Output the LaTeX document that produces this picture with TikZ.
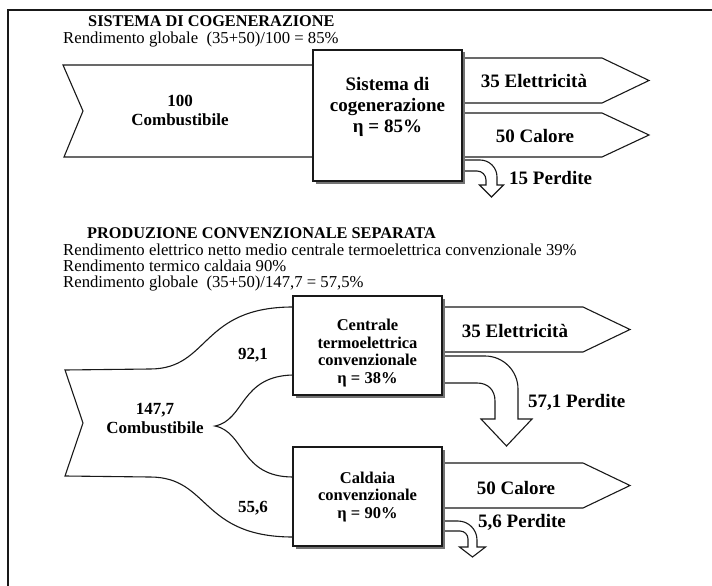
\documentclass[tikz,border=0pt]{standalone}
\usepackage{fontspec}
\setmainfont{Liberation Serif}
\usetikzlibrary{shadows,calc}
\tikzset{
 ln/.style={line width=1.1pt, draw=black!90, line join=miter},
 blockarrow/.style={ln, fill=white},
 procbox/.style={ln, fill=white, minimum width=149pt, inner sep=0,
   drop shadow={shadow xshift=2.5pt, shadow yshift=-2.5pt, fill=black!55, opacity=1}},
 titletxt/.style={font=\fontsize{16.3}{18}\selectfont\bfseries, anchor=base west, inner sep=0},
 infotxt/.style={font=\fontsize{16.7}{18}\selectfont, anchor=base west, inner sep=0},
 flowlbl/.style={font=\fontsize{19}{21}\selectfont\bfseries, inner sep=0},
 qty/.style={font=\fontsize{17}{19}\selectfont\bfseries, inner sep=0, align=center},
 boxtxt/.style={font=\fontsize{16.5}{17.5}\selectfont\bfseries, align=center, inner sep=0},
}
\begin{document}
\begin{tikzpicture}[x=1pt,y=-1pt]
\useasboundingbox (0,0) rectangle (712,586);
% frame
\draw[line width=1.8pt, black!90] (8,586) -- (8,10) -- (712,10);

% ---------- top section ----------
\node[titletxt] (t1) at (88,27) {SISTEMA DI COGENERAZIONE};
\node[infotxt] (r1) at (63,43.5) {Rendimento globale\enspace(35+50)/100 = 85\%};

\draw[blockarrow] (313,65) -- (63,65) -- (83,111) -- (64,157) -- (313,157);
\draw[blockarrow] (462,58) -- (602,58) -- (649,80.5) -- (602,103) -- (462,103);
\draw[blockarrow] (462,113) -- (602,113) -- (649,135) -- (602,157) -- (462,157);
\draw[blockarrow] (462,160) -- (480,160) .. controls (489.4,160) and (497,167.6) .. (497,177)
  -- (497,185) -- (503.5,185) -- (491.5,197) -- (479.5,185) -- (486,185) -- (486,180)
  .. controls (486,175) and (482,171) .. (477,171) -- (462,171);

\node[procbox, minimum height=131pt] (cog) at (387.5,115.5) {};
\node[font=\fontsize{19}{21}\selectfont\bfseries, align=center, inner sep=0] (cogt) at (387.5,107) {Sistema di\\cogenerazione\\η = 85\%};

\node[qty] (fuel1) at (180,110) {100\\Combustibile};
\node[flowlbl] (el1) at (534,81) {35 Elettricità};
\node[flowlbl] (ca1) at (535,136) {50 Calore};
\node[flowlbl, anchor=west] (lo1) at (509,178) {15 Perdite};

% ---------- bottom section ----------
\node[titletxt] (t2) at (87,238) {PRODUZIONE CONVENZIONALE SEPARATA};
\node[infotxt] (r2) at (63,255) {Rendimento elettrico netto medio centrale termoelettrica convenzionale 39\%};
\node[infotxt] (r3) at (63,271) {Rendimento termico caldaia 90\%};
\node[infotxt] (r4) at (63,287) {Rendimento globale\enspace(35+50)/147,7 = 57,5\%};

% fuel fork
\draw[ln] (293,307) .. controls (200,307) and (210,369) .. (150,369) -- (65,370) -- (83,423)
  -- (65,476) -- (150,477) .. controls (210,477) and (200,537) .. (293,537);
\draw[ln] (293,375) .. controls (240,376) and (245,420) .. (215,426)
  .. controls (245,432) and (240,477) .. (293,477);

\draw[blockarrow] (442,307) -- (583,307) -- (630,329.5) -- (583,352) -- (442,352);
\draw[blockarrow] (442,463) -- (583,463) -- (630,485.5) -- (583,508) -- (442,508);
\draw[blockarrow] (442,356) -- (485,356) .. controls (503.2,356) and (518,370.8) .. (518,389)
  -- (518,419) -- (532,419) -- (506.5,446) -- (481,419) -- (495,419) -- (495,401)
  .. controls (495,390) and (488,383) .. (477,383) -- (442,383);
\draw[blockarrow] (442,521) -- (458,521) .. controls (468.5,521) and (477,529.5) .. (477,540)
  -- (477,547) -- (485.5,547) -- (472.5,557) -- (459.5,547) -- (468,547) -- (468,539)
  .. controls (468,534.6) and (464.4,531) .. (460,531) -- (442,531);

\node[procbox, minimum height=99pt] (cen) at (367.5,345.5) {};
\node[procbox, minimum height=99pt] (cal) at (367.5,496.5) {};
\node[boxtxt] (cent) at (367.5,353) {Centrale\\termoelettrica\\convenzionale\\η = 38\%};
\node[boxtxt] (calt) at (367.5,497) {Caldaia\\convenzionale\\η = 90\%};

\node[qty] (fuel2) at (155,418) {147,7\\Combustibile};
\node[qty] (q1) at (253,355) {92,1};
\node[qty] (q2) at (253,508) {55,6};
\node[flowlbl] (el2) at (515,331) {35 Elettricità};
\node[flowlbl] (ca2) at (516,488) {50 Calore};
\node[flowlbl, anchor=west] (lo2) at (528,402) {57,1 Perdite};
\node[flowlbl, anchor=west] (lo3) at (478,522) {5,6 Perdite};
\end{tikzpicture}
\end{document}
